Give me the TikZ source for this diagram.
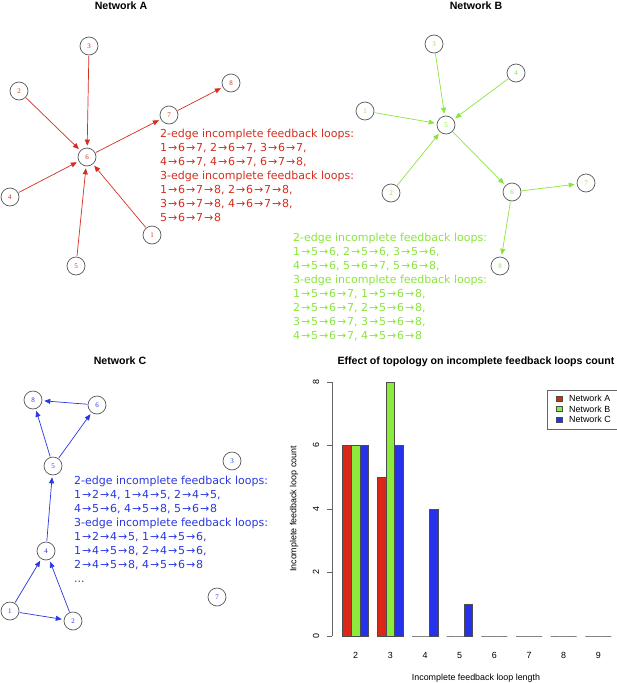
\documentclass[tikz,border=0pt]{standalone}
\usepackage{fontspec}
\setmainfont{Liberation Serif}
\newfontfamily\dejavu{DejaVu Sans}
\newfontfamily\helv{Liberation Sans}
\usetikzlibrary{arrows.meta}
\definecolor{netred}{RGB}{212,46,30}
\definecolor{netgreen}{RGB}{138,230,62}
\definecolor{netblue}{RGB}{42,56,228}
\definecolor{barred}{RGB}{218,40,24}
\definecolor{bargreen}{RGB}{140,236,60}
\definecolor{barblue}{RGB}{36,50,236}
\newcommand\myar{\makebox[1em]{→}}
\tikzset{
  nd/.style={circle, draw=black!65, line width=0.7pt, minimum size=18pt, inner sep=0pt, font=\fontsize{7}{7}\selectfont},
  ed/.style={line width=0.7pt, -{Triangle[length=6pt,width=5pt]}, shorten >=2pt, shorten <=0.5pt},
  loops/.style={anchor=north west, inner sep=0pt, align=left, font=\dejavu\fontsize{11}{14}\selectfont},
  ttl/.style={anchor=base, inner sep=0pt, font=\helv\bfseries\fontsize{10.6}{12}\selectfont},
  ax/.style={inner sep=0pt, font=\helv\fontsize{8.9}{10}\selectfont},
  bar/.style={draw=black!70, line width=0.5pt},
}
\begin{document}
\begin{tikzpicture}[x=1pt,y=-1pt]
\useasboundingbox (0,0) rectangle (617,683);
\fill[white] (0,0) rectangle (617,683);

% ---------------- Network A ----------------
\node[ttl] (ta) at (121,9.5) {Network A};
\begin{scope}[every node/.append style={text=netred}]
\node[nd] (a3) at (89,46) {3};
\node[nd] (a2) at (19,91) {2};
\node[nd] (a8) at (231,83) {8};
\node[nd] (a7) at (169,115) {7};
\node[nd] (a6) at (87,157) {6};
\node[nd] (a4) at (10,197) {4};
\node[nd] (a1) at (152,235) {1};
\node[nd] (a5) at (76,266) {5};
\end{scope}
\begin{scope}[netred]
\draw[ed] (a3) -- (a6);
\draw[ed] (a2) -- (a6);
\draw[ed] (a4) -- (a6);
\draw[ed] (a5) -- (a6);
\draw[ed] (a1) -- (a6);
\draw[ed] (a6) -- (a7);
\draw[ed] (a7) -- (a8);
\end{scope}
\node[loops, text=netred] (la) at (160,129) {2-edge incomplete feedback loops:\\
1\myar6\myar7, 2\myar6\myar7, 3\myar6\myar7,\\
4\myar6\myar7, 4\myar6\myar7, 6\myar7\myar8,\\
3-edge incomplete feedback loops:\\
1\myar6\myar7\myar8, 2\myar6\myar7\myar8,\\
3\myar6\myar7\myar8, 4\myar6\myar7\myar8,\\
5\myar6\myar7\myar8};

% ---------------- Network B ----------------
\node[ttl] (tb) at (476,9.5) {Network B};
\begin{scope}[every node/.append style={text=netgreen}]
\node[nd] (b3) at (434,44) {3};
\node[nd] (b4) at (516,73) {4};
\node[nd] (b1) at (365,111) {1};
\node[nd] (b5) at (446,125) {5};
\node[nd] (b2) at (391,193) {2};
\node[nd] (b6) at (512,192) {6};
\node[nd] (b7) at (586,183) {7};
\node[nd] (b8) at (500,266) {8};
\end{scope}
\begin{scope}[netgreen]
\draw[ed] (b3) -- (b5);
\draw[ed] (b4) -- (b5);
\draw[ed] (b1) -- (b5);
\draw[ed] (b2) -- (b5);
\draw[ed] (b5) -- (b6);
\draw[ed] (b6) -- (b7);
\draw[ed] (b6) -- (b8);
\end{scope}
\node[loops, text=netgreen] (lb) at (293,233.3) {2-edge incomplete feedback loops:\\
1\myar5\myar6, 2\myar5\myar6, 3\myar5\myar6,\\
4\myar5\myar6, 5\myar6\myar7, 5\myar6\myar8,\\
3-edge incomplete feedback loops:\\
1\myar5\myar6\myar7, 1\myar5\myar6\myar8,\\
2\myar5\myar6\myar7, 2\myar5\myar6\myar8,\\
3\myar5\myar6\myar7, 3\myar5\myar6\myar8,\\
4\myar5\myar6\myar7, 4\myar5\myar6\myar8};

% ---------------- Network C ----------------
\node[ttl] (tc) at (120,364.3) {Network C};
\begin{scope}[every node/.append style={text=netblue}]
\node[nd] (c8) at (33,400) {8};
\node[nd] (c6) at (97,405) {6};
\node[nd] (c5) at (53,466) {5};
\node[nd] (c3) at (232,461) {3};
\node[nd] (c4) at (46,551) {4};
\node[nd] (c1) at (10,611) {1};
\node[nd] (c2) at (73,621) {2};
\node[nd] (c7) at (217,597) {7};
\end{scope}
\begin{scope}[netblue]
\draw[ed] (c1) -- (c4);
\draw[ed] (c2) -- (c4);
\draw[ed] (c1) -- (c2);
\draw[ed] (c4) -- (c5);
\draw[ed] (c5) -- (c8);
\draw[ed] (c5) -- (c6);
\draw[ed] (c6) -- (c8);
\end{scope}
\node[loops, text=netblue] (lc) at (74,475.6) {2-edge incomplete feedback loops:\\
1\myar2\myar4, 1\myar4\myar5, 2\myar4\myar5,\\
4\myar5\myar6, 4\myar5\myar8, 5\myar6\myar8\\
3-edge incomplete feedback loops:\\
1\myar2\myar4\myar5, 1\myar4\myar5\myar6,\\
1\myar4\myar5\myar8, 2\myar4\myar5\myar6,\\
2\myar4\myar5\myar8, 4\myar5\myar6\myar8\\
...};

% ---------------- Bar chart ----------------
\node[ttl] (tchart) at (476,364) {Effect of topology on incomplete feedback loops count};
\coordinate (ytop) at (332,382);
\coordinate (ybot) at (332,636);
\draw[black!60, line width=0.6pt] (ytop) -- (ybot);
\foreach \v in {0,2,4,6,8} {
  \draw[black!60, line width=0.6pt] (332,636-31.75*\v) -- (327,636-31.75*\v);
  \node[ax, rotate=90] at (316,636-31.75*\v) {\v};
}
\node[ax, rotate=90] (ylab) at (294,509) {Incomplete feedback loop count};
\foreach \g/\a/\b/\c in {0/6/6/6,1/5/8/6,2/0/0/4,3/0/0/1,4/0/0/0,5/0/0/0,6/0/0/0,7/0/0/0} {
  \pgfmathsetmacro\xs{342.7+34.667*\g}
  \draw[bar, fill=barred] (\xs,636) rectangle ++(8.667,-31.75*\a);
  \draw[bar, fill=bargreen] (\xs+8.667,636) rectangle ++(8.667,-31.75*\b);
  \draw[bar, fill=barblue] (\xs+17.333,636) rectangle ++(8.667,-31.75*\c);
  \pgfmathtruncatemacro\lab{\g+2}
  \node[ax, anchor=base] at (\xs+13,658.5) {\lab};
}
\node[ax, anchor=base] (xlab) at (476,680) {Incomplete feedback loop length};
% legend
\draw[black!60, line width=0.6pt, fill=white] (547,390) rectangle (618,429);
\draw[bar, fill=barred] (556,396) rectangle (562,401);
\draw[bar, fill=bargreen] (556,406.5) rectangle (562,411.5);
\draw[bar, fill=barblue] (556,417) rectangle (562,422);
\node[ax, anchor=west] (lga) at (569,398.5) {Network A};
\node[ax, anchor=west] (lgb) at (569,409) {Network B};
\node[ax, anchor=west] (lgc) at (569,419.5) {Network C};
\end{tikzpicture}
\end{document}
